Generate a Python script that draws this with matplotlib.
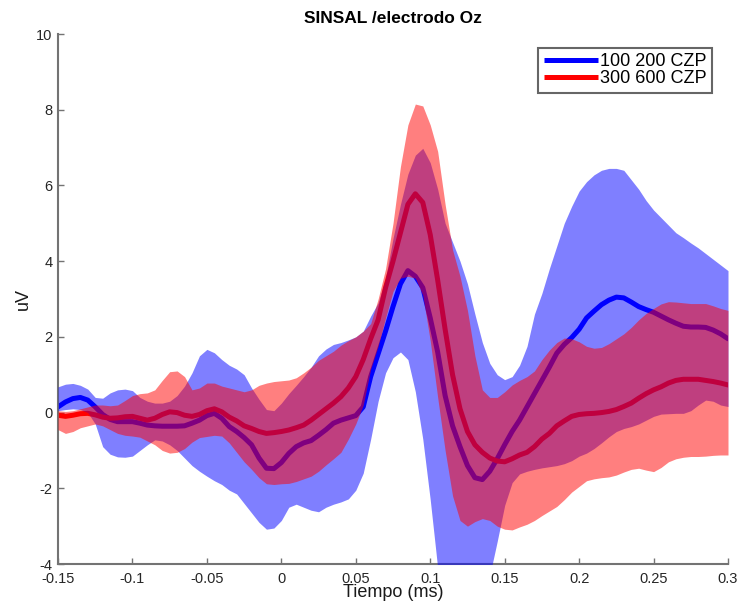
"""
Grand-average ERP at electrode Oz for the two CZP dose groups.

Each group is drawn as its mean waveform with a shaded band around it.
"""
import numpy as np
import matplotlib
matplotlib.use("Agg")
import matplotlib.pyplot as plt
from matplotlib.lines import Line2D

plt.rcParams["font.family"] = ["Liberation Sans", "DejaVu Sans"]
plt.rcParams["axes.unicode_minus"] = False

# sample times (s), one every 5 ms from -150 to 300 ms
time = np.round(np.arange(-0.15, 0.3001, 0.005), 3)

# group 100 200 CZP
blue_mean = [
    0.15, 0.28, 0.37, 0.40, 0.33, 0.15, -0.05, -0.18, -0.24, -0.24,
    -0.24, -0.28, -0.33, -0.35, -0.36, -0.36, -0.36, -0.35, -0.28, -0.20,
    -0.08, -0.02, -0.15, -0.37, -0.50, -0.66, -0.85, -1.20, -1.47, -1.48,
    -1.32, -1.08, -0.90, -0.80, -0.74, -0.60, -0.45, -0.28, -0.20, -0.14,
    -0.08, 0.15, 0.95, 1.55, 2.15, 2.80, 3.40, 3.75, 3.60, 3.30,
    2.50, 1.60, 0.45, -0.35, -0.90, -1.40, -1.72, -1.77, -1.55, -1.22,
    -0.85, -0.50, -0.20, 0.15, 0.50, 0.85, 1.20, 1.57, 1.80, 1.98,
    2.20, 2.50, 2.68, 2.85, 2.97, 3.05, 3.03, 2.92, 2.80, 2.72,
    2.65, 2.55, 2.45, 2.36, 2.28, 2.26, 2.26, 2.25, 2.18, 2.08, 1.95,
]
blue_upper = [
    0.68, 0.75, 0.77, 0.72, 0.62, 0.40, 0.38, 0.52, 0.60, 0.62,
    0.58, 0.40, 0.30, 0.25, 0.25, 0.30, 0.45, 0.70, 1.05, 1.50,
    1.67, 1.58, 1.40, 1.25, 1.15, 1.00, 0.65, 0.35, 0.08, 0.05,
    0.25, 0.50, 0.72, 0.95, 1.20, 1.50, 1.68, 1.80, 1.85, 1.92,
    2.00, 2.15, 2.55, 2.90, 3.55, 4.60, 5.50, 6.30, 6.80, 6.98,
    6.60, 5.90, 5.00, 4.50, 4.00, 3.40, 2.60, 1.85, 1.30, 1.00,
    0.87, 0.95, 1.25, 1.75, 2.60, 3.15, 3.80, 4.40, 5.00, 5.45,
    5.85, 6.10, 6.28, 6.40, 6.45, 6.45, 6.40, 6.15, 5.90, 5.60,
    5.35, 5.15, 4.95, 4.75, 4.62, 4.48, 4.35, 4.20, 4.05, 3.90, 3.75,
]
blue_lower = [
    0.05, 0.08, 0.10, 0.08, 0.00, -0.30, -0.90, -1.10, -1.17, -1.18,
    -1.15, -1.00, -0.85, -0.72, -0.75, -0.85, -1.00, -1.20, -1.40, -1.55,
    -1.68, -1.80, -1.90, -2.05, -2.15, -2.40, -2.65, -2.90, -3.08, -3.05,
    -2.85, -2.50, -2.42, -2.50, -2.58, -2.62, -2.50, -2.42, -2.36, -2.28,
    -2.05, -1.60, -0.70, 0.30, 1.05, 1.45, 1.60, 1.40, 0.55, -0.70,
    -2.30, -4.10, -5.00, -5.50, -5.60, -5.50, -5.20, -4.80, -4.30, -3.40,
    -2.45, -1.85, -1.62, -1.55, -1.50, -1.46, -1.43, -1.40, -1.35, -1.27,
    -1.15, -1.07, -0.95, -0.80, -0.64, -0.50, -0.42, -0.37, -0.30, -0.20,
    -0.10, -0.04, -0.03, -0.02, -0.02, 0.05, 0.20, 0.33, 0.30, 0.20, 0.16,
]

# group 300 600 CZP
red_mean = [
    -0.07, -0.10, -0.07, -0.03, -0.02, -0.06, -0.12, -0.15, -0.14, -0.11,
    -0.10, -0.15, -0.20, -0.15, -0.05, 0.02, 0.00, -0.07, -0.10, -0.05,
    0.05, 0.10, 0.02, -0.12, -0.22, -0.35, -0.42, -0.50, -0.55, -0.53,
    -0.50, -0.46, -0.40, -0.33, -0.20, -0.05, 0.10, 0.25, 0.42, 0.65,
    0.95, 1.40, 1.95, 2.45, 3.30, 4.00, 4.75, 5.50, 5.78, 5.55,
    4.70, 3.50, 2.20, 1.00, 0.10, -0.50, -0.85, -1.05, -1.20, -1.28,
    -1.30, -1.22, -1.12, -1.05, -0.90, -0.70, -0.55, -0.35, -0.22, -0.10,
    -0.05, -0.03, -0.02, 0.00, 0.03, 0.08, 0.16, 0.25, 0.38, 0.50,
    0.60, 0.68, 0.78, 0.85, 0.88, 0.88, 0.88, 0.85, 0.82, 0.78, 0.73,
]
red_upper = [
    0.05, 0.03, 0.05, 0.10, 0.15, 0.20, 0.20, 0.18, 0.20, 0.32,
    0.45, 0.50, 0.52, 0.60, 0.85, 1.08, 1.10, 0.95, 0.60, 0.65,
    0.78, 0.78, 0.70, 0.65, 0.60, 0.55, 0.60, 0.72, 0.78, 0.82,
    0.84, 0.86, 0.92, 1.05, 1.20, 1.38, 1.50, 1.62, 1.78, 1.90,
    2.00, 2.15, 2.35, 3.00, 3.80, 5.00, 6.50, 7.60, 8.15, 8.10,
    7.60, 6.90, 5.50, 4.30, 3.60, 2.70, 1.50, 0.60, 0.40, 0.40,
    0.55, 0.73, 0.85, 0.95, 1.10, 1.40, 1.65, 1.85, 1.97, 1.95,
    1.87, 1.75, 1.70, 1.72, 1.82, 1.95, 2.08, 2.25, 2.45, 2.62,
    2.75, 2.87, 2.93, 2.92, 2.90, 2.88, 2.88, 2.88, 2.82, 2.75, 2.70,
]
red_lower = [
    -0.45, -0.55, -0.50, -0.40, -0.35, -0.30, -0.35, -0.45, -0.55, -0.60,
    -0.62, -0.65, -0.75, -0.85, -1.00, -1.07, -1.05, -0.95, -0.78, -0.66,
    -0.63, -0.60, -0.62, -0.80, -1.05, -1.30, -1.50, -1.72, -1.88, -1.90,
    -1.88, -1.87, -1.82, -1.75, -1.68, -1.55, -1.38, -1.22, -1.05, -0.70,
    -0.30, 0.20, 1.15, 1.75, 2.50, 3.20, 3.55, 3.60, 3.55, 3.10,
    1.90, 0.40, -1.00, -2.20, -2.85, -3.00, -2.88, -2.80, -2.85, -3.00,
    -3.08, -3.10, -3.02, -2.95, -2.85, -2.72, -2.60, -2.48, -2.30, -2.10,
    -1.95, -1.80, -1.75, -1.72, -1.70, -1.65, -1.57, -1.50, -1.47, -1.52,
    -1.56, -1.45, -1.30, -1.22, -1.18, -1.16, -1.16, -1.15, -1.13, -1.12, -1.12,
]

labels = ["100 200 CZP", "300 600 CZP"]
xticks = [-0.15, -0.1, -0.05, 0, 0.05, 0.1, 0.15, 0.2, 0.25, 0.3]
xtick_labels = ["-0.15", "-0.1", "-0.05", "0", "0.05", "0.1", "0.15", "0.2", "0.25", "0.3"]
yticks = [-4, -2, 0, 2, 4, 6, 8, 10]


def plot_erp(ax, t, mean, lower, upper, color, zorder):
    """
    Draws one group: the mean waveform underneath, then the half
    transparent band on top of it.
    """
    ax.plot(t, mean, color=color, lw=3.6, solid_capstyle="round",
            solid_joinstyle="round", zorder=2)
    ax.fill_between(t, lower, upper, color=color, alpha=0.5, lw=0,
                    zorder=zorder)


fig = plt.figure(figsize=(7.37, 6.04), dpi=100)
ax = fig.add_axes([0.0787, 0.0662, 0.9091, 0.8775])

plot_erp(ax, time, blue_mean, blue_lower, blue_upper, "blue", 3)
plot_erp(ax, time, red_mean, red_lower, red_upper, "red", 4)

ax.set_xlim(-0.15, 0.3)
ax.set_ylim(-4, 10)
ax.set_xticks(xticks)
ax.set_xticklabels(xtick_labels)
ax.set_yticks(yticks)

# MATLAB-like axes: box off, inward ticks, grey axis lines
for side in ("top", "right"):
    ax.spines[side].set_visible(False)
for side in ("left", "bottom"):
    ax.spines[side].set_color("0.45")
    ax.spines[side].set_linewidth(1.5)
ax.tick_params(direction="in", length=4, width=1, color="0.45",
               labelsize=10.5, labelcolor="0.15", pad=4)
ax.tick_params(axis="x", pad=5.5)

ax.set_title("SINSAL /electrodo Oz", fontsize=12.5, fontweight="bold", pad=8)
ax.set_xlabel("Tiempo (ms)", fontsize=13, color="0.1")
ax.set_ylabel("uV", fontsize=13, color="0.1")
ax.xaxis.set_label_coords(0.5, -0.038)
ax.yaxis.set_label_coords(-0.039, 0.5)

handles = [Line2D([], [], color="blue", lw=3.6, solid_capstyle="butt"),
           Line2D([], [], color="red", lw=3.6, solid_capstyle="butt")]
leg = ax.legend(handles, labels, loc="upper right",
                bbox_to_anchor=(0.976, 0.974), borderaxespad=0,
                fontsize=13, handlelength=3.0, handletextpad=0.1,
                labelspacing=0.0, borderpad=0.3, fancybox=False,
                framealpha=1, edgecolor="0.4")
leg.get_frame().set_linewidth(1.5)
leg.set_zorder(6)

fig.savefig("out.png", dpi=100)
